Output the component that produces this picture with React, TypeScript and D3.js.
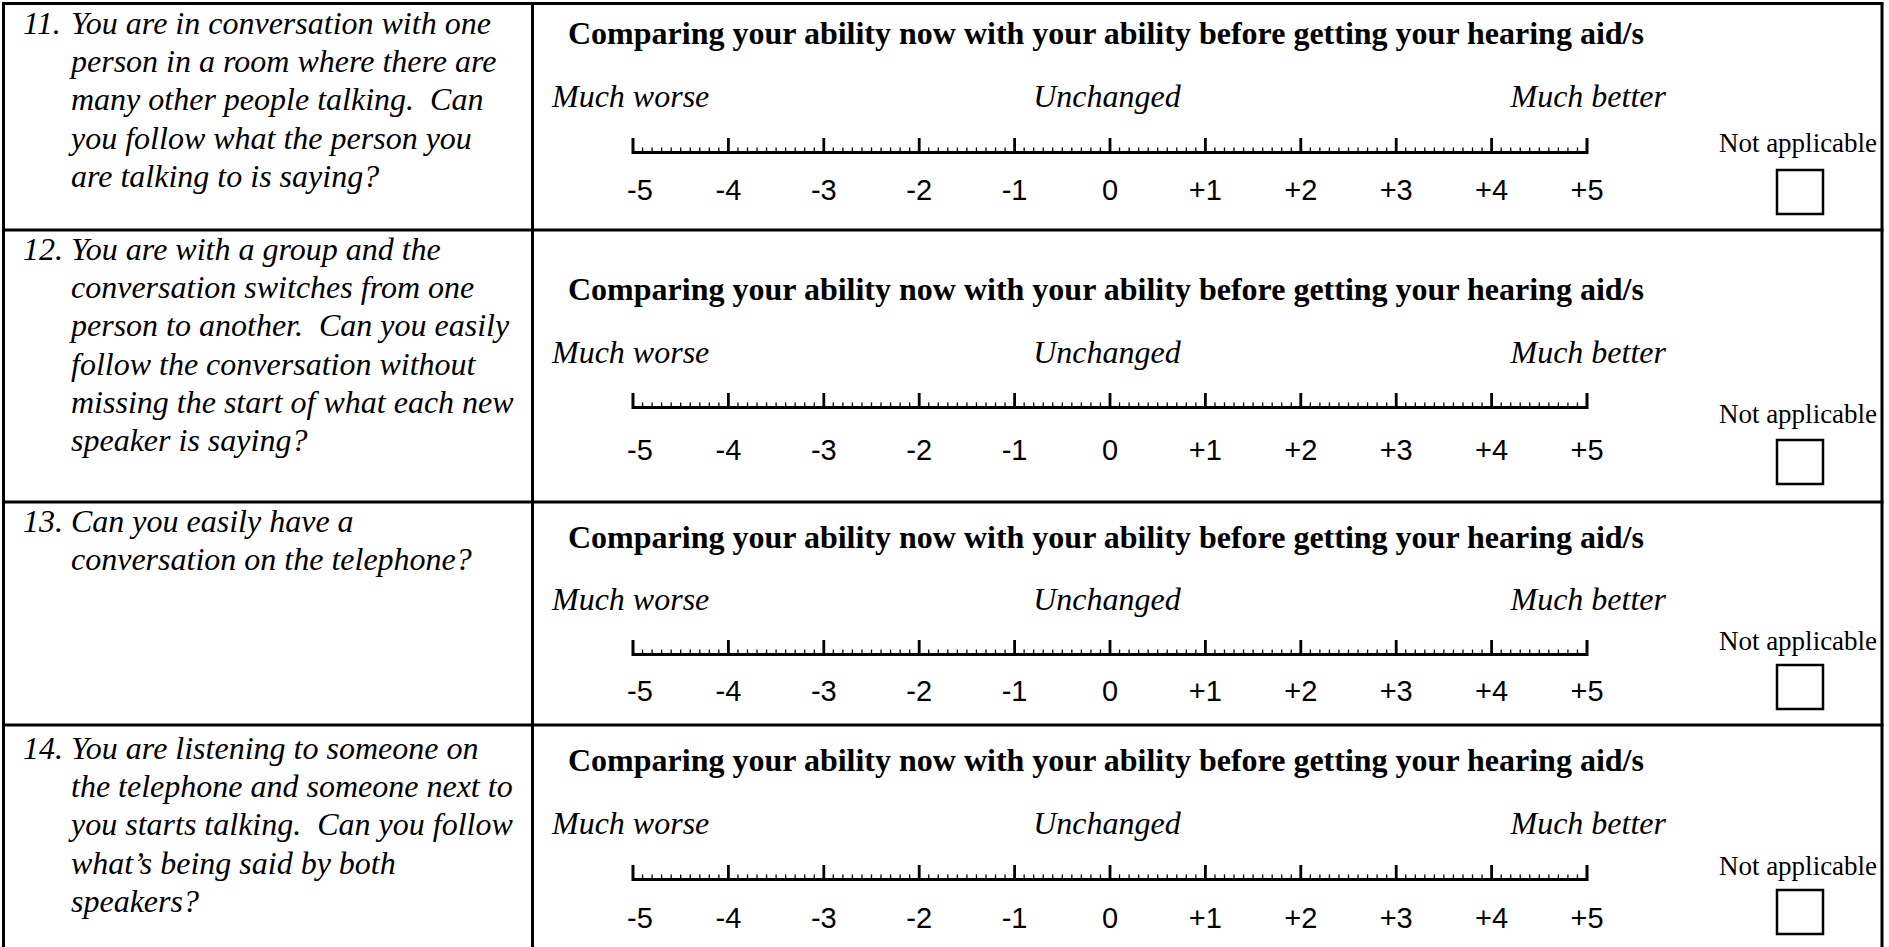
import React from "react";
import * as d3 from "d3";

// ---- data ----
const questionNumbers = ["11.", "12.", "13.", "14."];
const questionLines: string[][] = [
  [
    "You are in conversation with one",
    "person in a room where there are",
    "many other people talking.  Can",
    "you follow what the person you",
    "are talking to is saying?",
  ],
  [
    "You are with a group and the",
    "conversation switches from one",
    "person to another.  Can you easily",
    "follow the conversation without",
    "missing the start of what each new",
    "speaker is saying?",
  ],
  ["Can you easily have a", "conversation on the telephone?"],
  [
    "You are listening to someone on",
    "the telephone and someone next to",
    "you starts talking.  Can you follow",
    "what\u2019s being said by both",
    "speakers?",
  ],
];
const headerText = "Comparing your ability now with your ability before getting your hearing aid/s";
const anchorLabels = ["Much worse", "Unchanged", "Much better"];
const tickValues = [-5, -4, -3, -2, -1, 0, 1, 2, 3, 4, 5];
const tickLabels = ["-5", "-4", "-3", "-2", "-1", "0", "+1", "+2", "+3", "+4", "+5"];
const notApplicableLabel = "Not applicable";

// ---- layout ----
const W = 1889;
const H = 947;
const leftX = 3.5;
const rightX = 1882;
const dividerX = 532.5;
const tableBottom = 953;
const rows = [
  { top: 3.5, qBase: 34, header: 44, mw: 107, scale: 154, labels: 200, na: 152, cb: 170 },
  { top: 230, qBase: 260, header: 300, mw: 363, scale: 409, labels: 460, na: 423, cb: 440 },
  { top: 502, qBase: 532, header: 548, mw: 610, scale: 656, labels: 701, na: 650, cb: 665 },
  { top: 725, qBase: 759, header: 771, mw: 834, scale: 881, labels: 928, na: 875, cb: 890 },
];
const textX = 71;
const numberX = 23;
const lineGap = 38.2;
const serif = "'Liberation Serif', 'Times New Roman', Times, serif";
const sans = "'Liberation Sans', Arial, Helvetica, sans-serif";

const x = d3.scaleLinear().domain([-5, 5]).range([633, 1587]);
const minorTicks = d3.range(-50, 51).filter((i) => i % 10 !== 0).map((i) => i / 10);

function Scale({ y }: { y: number }) {
  const base = y - 1.5;
  const path = d3.path();
  path.moveTo(x(-5), y - 16);
  path.lineTo(x(-5), base);
  path.lineTo(x(5), base);
  path.lineTo(x(5), y - 16);
  return (
    <g>
      <path d={path.toString()} fill="none" stroke="#000" strokeWidth={3} strokeLinejoin="miter" strokeLinecap="butt" />
      {tickValues.slice(1, -1).map((v) => (
        <line key={v} x1={x(v)} x2={x(v)} y1={y - 16} y2={base} stroke="#000" strokeWidth={2.8} />
      ))}
      {minorTicks.map((v) => (
        <line key={v} x1={x(v)} x2={x(v)} y1={y - 6.5} y2={base} stroke="#000" strokeWidth={1.3} />
      ))}
    </g>
  );
}

export default function App() {
  return (
    <svg
      width={W}
      height={H}
      viewBox={`0 0 ${W} ${H}`}
      style={{ position: "absolute", left: 0, top: 0, background: "#fff" }}
    >
      <rect x={0} y={0} width={W} height={H} fill="#fff" />
      {/* table borders */}
      <g stroke="#000" strokeWidth={3} fill="none">
        <line x1={leftX} x2={leftX} y1={rows[0].top} y2={tableBottom} />
        <line x1={rightX} x2={rightX} y1={rows[0].top} y2={tableBottom} />
        <line x1={dividerX} x2={dividerX} y1={rows[0].top} y2={tableBottom} />
        {rows.map((r, i) => (
          <line key={i} x1={leftX - 1.5} x2={rightX + 1.5} y1={r.top} y2={r.top} />
        ))}
        <line x1={leftX - 1.5} x2={rightX + 1.5} y1={tableBottom} y2={tableBottom} />
      </g>
      {rows.map((r, i) => (
        <g key={i}>
          {/* question */}
          <g fontFamily={serif} fontStyle="italic" fontSize={32} fill="#000">
            <text x={numberX} y={r.qBase}>{questionNumbers[i]}</text>
            {questionLines[i].map((ln, j) => (
              <text key={j} x={textX} y={r.qBase + j * lineGap} style={{ whiteSpace: "pre" }}>
                {ln}
              </text>
            ))}
          </g>
          {/* header */}
          <text x={568} y={r.header} fontFamily={serif} fontWeight="bold" fontSize={32} fill="#000">
            {headerText}
          </text>
          {/* anchor labels */}
          <g fontFamily={serif} fontStyle="italic" fontSize={32} fill="#000">
            <text x={x(-5) - 81} y={r.mw} textAnchor="start">{anchorLabels[0]}</text>
            <text x={x(0) - 3} y={r.mw} textAnchor="middle">{anchorLabels[1]}</text>
            <text x={x(5) + 79} y={r.mw} textAnchor="end">{anchorLabels[2]}</text>
          </g>
          <Scale y={r.scale} />
          <g fontFamily={sans} fontSize={29} fill="#000" textAnchor="middle">
            {tickValues.map((v, k) => (
              <text key={v} x={x(v) + (k === 0 ? 7 : 0)} y={r.labels}>{tickLabels[k]}</text>
            ))}
          </g>
          <text x={1798} y={r.na} fontFamily={serif} fontSize={27} textAnchor="middle" fill="#000">
            {notApplicableLabel}
          </text>
          <rect x={1777} y={r.cb} width={46} height={44} fill="none" stroke="#000" strokeWidth={2.5} />
        </g>
      ))}
    </svg>
  );
}
